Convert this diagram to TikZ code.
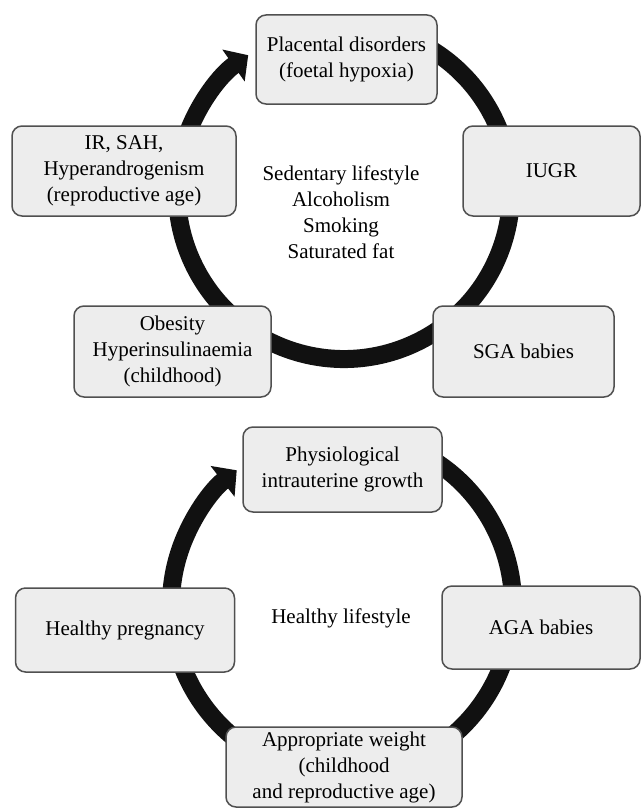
\documentclass[tikz,border=0pt]{standalone}
\usepackage{fontspec}
\setmainfont{Liberation Serif}
\usetikzlibrary{arrows.meta}
\definecolor{boxfill}{HTML}{EDEDED}
\definecolor{boxline}{HTML}{505050}
\definecolor{ringcol}{HTML}{111111}
\begin{document}
\begin{tikzpicture}[x=1pt,y=1pt,
  stagebox/.style={draw=boxline, line width=1.5pt, fill=boxfill, rounded corners=10pt,
    align=center, inner sep=0pt, font=\fontsize{21}{26}\selectfont},
  ring/.style={draw=ringcol, line width=18pt, -{Triangle[length=18pt,width=38pt]}},
  plaintext/.style={align=center, inner sep=0pt, font=\fontsize{21}{26}\selectfont}]
\useasboundingbox (0,0) rectangle (641,-808);
% ---------- top cycle ----------
\coordinate (c1) at (344,-192);
\draw[ring] ([shift={(70:167)}]c1) arc[start angle=70, end angle=-235, radius=167];
\node[stagebox, minimum width=181pt, minimum height=89pt] (pla) at (346.5,-59.5)
  {Placental disorders\\(foetal hypoxia)};
\node[stagebox, minimum width=177pt, minimum height=90pt] (iugr) at (551.5,-171)
  {IUGR};
\node[stagebox, minimum width=181pt, minimum height=91pt] (sga) at (523.5,-351.5)
  {SGA babies};
\node[stagebox, minimum width=197pt, minimum height=91pt] (obe) at (172.5,-351.5)
  {Obesity\\Hyperinsulinaemia\\(childhood)};
\node[stagebox, minimum width=224pt, minimum height=90pt] (ir) at (124,-171)
  {IR, SAH,\\Hyperandrogenism\\(reproductive age)};
\node[plaintext] (risk) at (341,-212)
  {Sedentary lifestyle\\Alcoholism\\Smoking\\Saturated fat};
% ---------- bottom cycle ----------
\coordinate (c2) at (342,-605);
\draw[ring] ([shift={(70:171)}]c2) arc[start angle=70, end angle=-232, radius=171];
\node[stagebox, minimum width=199pt, minimum height=85pt] (phys) at (342.5,-469.5)
  {Physiological\\intrauterine growth};
\node[stagebox, minimum width=198pt, minimum height=83pt] (aga) at (541,-627.5)
  {AGA babies};
\node[stagebox, minimum width=236pt, minimum height=80pt] (app) at (344,-767)
  {Appropriate weight\\(childhood\\and reproductive age)};
\node[stagebox, minimum width=219pt, minimum height=84pt] (hp) at (125,-630)
  {Healthy pregnancy};
\node[plaintext] (hl) at (341,-618) {Healthy lifestyle};
\end{tikzpicture}
\end{document}
